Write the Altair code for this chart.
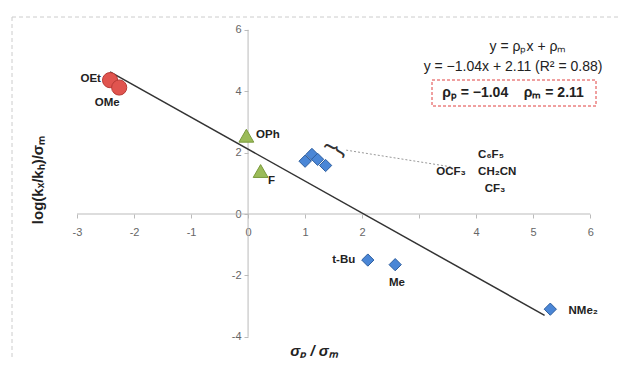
import altair as alt
import pandas as pd

# ---- data ----
circ_name = ["OEt", "OMe"]
circ_x = [-2.42, -2.26]
circ_y = [4.36, 4.12]

tri_name = ["OPh", "F"]
tri_x = [-0.03, 0.22]
tri_y = [2.55, 1.40]

dia_name = ["OCF3", "C6F5", "CH2CN", "CF3", "t-Bu", "Me", "NMe2"]
dia_x = [1.00, 1.12, 1.22, 1.36, 2.10, 2.58, 5.30]
dia_y = [1.72, 1.94, 1.78, 1.58, -1.50, -1.65, -3.10]

fit_x = [-2.42, 5.20]
fit_y = [4.63, -3.30]

x_ticks = [-3, -2, -1, 0, 1, 2, 3, 4, 5, 6]
y_ticks = [-4, -3, -2, -1, 0, 1, 2, 3, 4, 5, 6]

# label anchors (data units)
lab_left = pd.DataFrame({
    "t": ["OPh", "F", "NMe₂", "OCF₃"],
    "x": [0.14, 0.35, 5.62, 3.30],
    "y": [2.57, 1.07, -3.16, 1.37],
})
lab_right = pd.DataFrame({
    "t": ["OEt", "t-Bu"],
    "x": [-2.58, 1.88],
    "y": [4.40, -1.50],
})
lab_center = pd.DataFrame({
    "t": ["OMe", "Me", "C₆F₅", "CH₂CN", "CF₃"],
    "x": [-2.47, 2.61, 4.26, 4.37, 4.33],
    "y": [3.62, -2.25, 1.92, 1.37, 0.80],
})
leader_x = [1.72, 3.58]
leader_y = [2.08, 1.53]

W, H = 613, 350
XD = [-4.21, 6.54]
YD = [-4.69, 6.71]
FONT = "Liberation Sans"

xs = alt.Scale(domain=XD, nice=False, zero=False)
ys = alt.Scale(domain=YD, nice=False, zero=False)

circ = pd.DataFrame({"n": circ_name, "x": circ_x, "y": circ_y})
tri = pd.DataFrame({"n": tri_name, "x": tri_x, "y": tri_y})
dia = pd.DataFrame({"n": dia_name, "x": dia_x, "y": dia_y})
fit = pd.DataFrame({"x": fit_x, "y": fit_y})

xaxis_df = pd.DataFrame({"x": [x_ticks[0], x_ticks[-1]], "y": [0, 0]})
yaxis_df = pd.DataFrame({"x": [0, 0], "y": [y_ticks[0], y_ticks[-1]]})

base_axes = alt.Chart(pd.DataFrame({"x": x_ticks[:2], "y": y_ticks[:2]})).mark_point(opacity=0).encode(
    x=alt.X("x:Q", scale=xs, axis=alt.Axis(
        values=x_ticks, domain=False, grid=False, orient="bottom", offset=-(H + 8 - 214),
        tickSize=4, tickColor="#BBBBBB", labelColor="#666666", labelFont=FONT, labelFontSize=11,
        labelPadding=8, title=None,
        labelExpr="datum.value == 3 ? '' : toString(datum.value)")),
    y=alt.Y("y:Q", scale=ys, axis=alt.Axis(
        values=y_ticks, domain=False, grid=False, orient="left", offset=-240,
        tickSize=4, tickColor="#BBBBBB", labelColor="#666666", labelFont=FONT, labelFontSize=11,
        labelPadding=3, title=None, labelExpr="toString(datum.value)")),
)

xline = alt.Chart(xaxis_df).mark_line(color="#BBBBBB", strokeWidth=1).encode(
    x=alt.X("x:Q", scale=xs), y=alt.Y("y:Q", scale=ys))
yline = alt.Chart(yaxis_df).mark_line(color="#BBBBBB", strokeWidth=1).encode(
    x=alt.X("x:Q", scale=xs), y=alt.Y("y:Q", scale=ys), order="y:Q")

fit_line = alt.Chart(fit).mark_line(color="#333333", strokeWidth=1.5).encode(
    x=alt.X("x:Q", scale=xs), y=alt.Y("y:Q", scale=ys))

leader = alt.Chart(pd.DataFrame({"x": leader_x, "y": leader_y})).mark_line(
    color="#999999", strokeWidth=1, strokeDash=[2, 2]).encode(
    x=alt.X("x:Q", scale=xs), y=alt.Y("y:Q", scale=ys))

circles = alt.Chart(circ).mark_point(shape="circle", filled=True, size=230,
                                     fill="#E0544F", stroke="#B83A36", strokeWidth=1, opacity=1).encode(
    x=alt.X("x:Q", scale=xs), y=alt.Y("y:Q", scale=ys))
triangles = alt.Chart(tri).mark_point(shape="triangle-up", filled=True, size=220,
                                      fill="#9BBB59", stroke="#7A9A3C", strokeWidth=1, opacity=1).encode(
    x=alt.X("x:Q", scale=xs), y=alt.Y("y:Q", scale=ys))
diamonds = alt.Chart(dia).mark_point(shape="diamond", filled=True, size=150,
                                     fill="#4A86D6", stroke="#2E5E9E", strokeWidth=1, opacity=1).encode(
    x=alt.X("x:Q", scale=xs), y=alt.Y("y:Q", scale=ys))

def labels(df, align):
    return alt.Chart(df).mark_text(align=align, baseline="middle", font=FONT, fontSize=11.5,
                                   fontWeight="bold", color="#222222").encode(
        x=alt.X("x:Q", scale=xs), y=alt.Y("y:Q", scale=ys), text="t:N")

brace = alt.Chart(pd.DataFrame({"x": [1.52], "y": [2.12], "t": ["}"]})).mark_text(
    font=FONT, fontSize=24, angle=300, color="#333333", baseline="middle", align="center").encode(
    x=alt.X("x:Q", scale=xs), y=alt.Y("y:Q", scale=ys), text="t:N")

def ptext(txt, px, py, size=13, weight="normal", style="normal", angle=0, align="center"):
    return alt.Chart(pd.DataFrame({"t": [txt]})).mark_text(
        font=FONT, fontSize=size, fontWeight=weight, fontStyle=style, angle=angle,
        align=align, baseline="middle", color="#222222").encode(
        x=alt.value(px), y=alt.value(py), text="t:N")

NB = "\u00a0"
eq1 = ptext("y = ρₚx + ρₘ", 520, 39, size=14)
eq2 = ptext("y = −1.04x + 2.11 (R² = 0.88)", 505, 59, size=14)
eq3 = ptext("ρₚ = −1.04" + NB * 4 + "ρₘ = 2.11", 505, 85, size=14, weight="bold")
box = alt.Chart(pd.DataFrame({"a": [0]})).mark_rect(
    fill=None, stroke="#E04040", strokeWidth=1, strokeDash=[3, 2]).encode(
    x=alt.value(424), x2=alt.value(588), y=alt.value(72), y2=alt.value(98))

ytitle = ptext("log(kₓ/kₕ)/σₘ", 30, 172, size=15, weight="bold", angle=270)
xtitle = ptext("σₚ / σₘ", 306, 343, size=15, weight="bold", style="italic")

border_top = alt.Chart(pd.DataFrame({"a": [0]})).mark_rule(
    color="#CCCCCC", strokeDash=[4, 3]).encode(x=alt.value(4), x2=alt.value(613), y=alt.value(9))
border_left = alt.Chart(pd.DataFrame({"a": [0]})).mark_rule(
    color="#CCCCCC", strokeDash=[4, 3]).encode(x=alt.value(4), y=alt.value(9), y2=alt.value(H))

chart = alt.layer(
    border_top, border_left, base_axes, xline, yline, fit_line, leader,
    circles, triangles, diamonds,
    labels(lab_left, "left"), labels(lab_right, "right"), labels(lab_center, "center"),
    brace, box, eq1, eq2, eq3, ytitle, xtitle,
).properties(
    width=W, height=H, padding=0, autosize=alt.AutoSizeParams(type="none"),
).configure_view(stroke=None)

chart.save("out.html", embed_options={"renderer": "svg", "actions": False})
